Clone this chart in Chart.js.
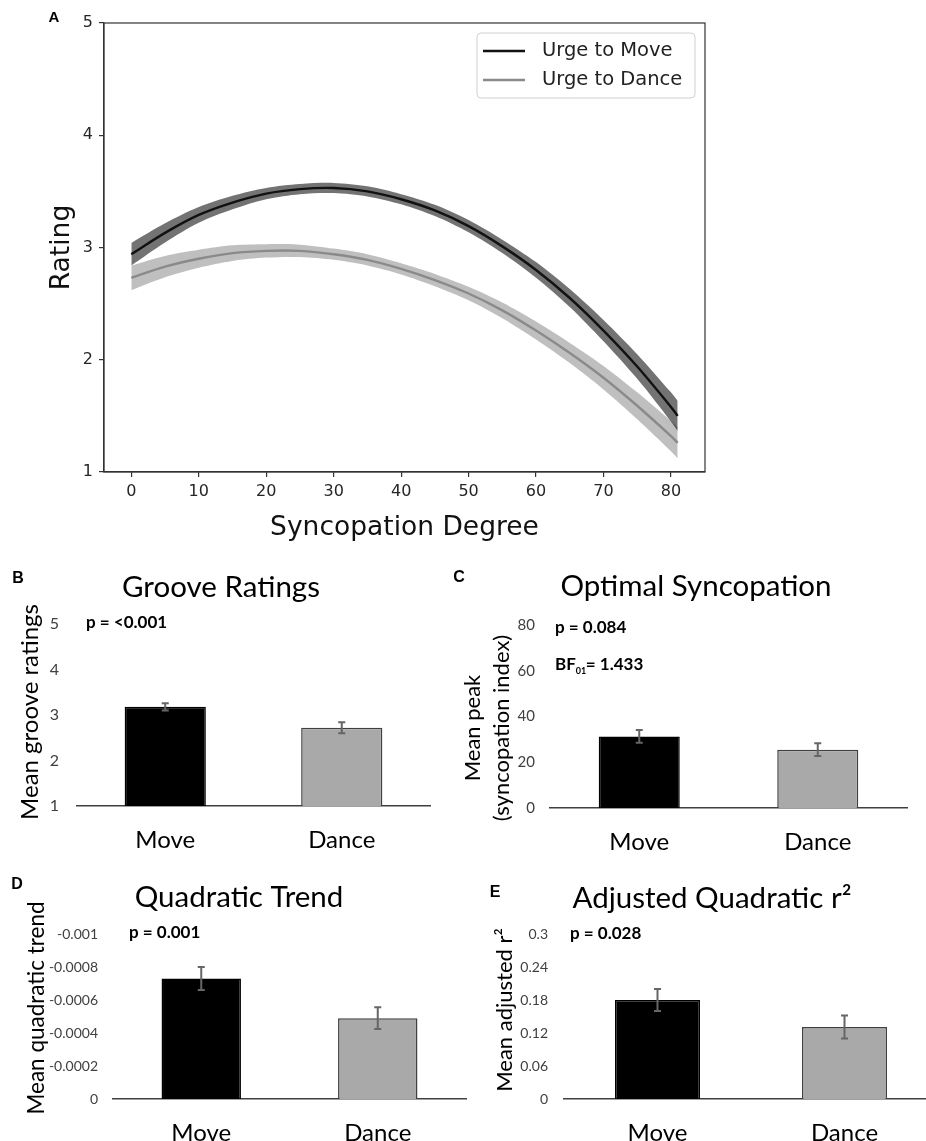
<!DOCTYPE html>
<html>
<head>
<meta charset="utf-8">
<script src="https://cdn.jsdelivr.net/npm/chart.js@4.4.0/dist/chart.umd.min.js"></script>
<style>
html, body { margin: 0; padding: 0; background: #fff; }
body { width: 926px; height: 1141px; position: relative; overflow: hidden; }
canvas { position: absolute; }
</style>
</head>
<body>
<canvas id="panel-a" width="720" height="550" style="left:0;top:0"></canvas>
<canvas id="panel-b" width="450" height="290" style="left:0;top:560px"></canvas>
<canvas id="panel-c" width="486" height="290" style="left:440px;top:560px"></canvas>
<canvas id="panel-d" width="470" height="281" style="left:0;top:860px"></canvas>
<canvas id="panel-e" width="510" height="281" style="left:440px;top:860px"></canvas>
<script>
// panel A: fitted curves with confidence bands
const degree = [0, 5, 10, 15, 20, 25, 30, 35, 40, 45, 50, 55, 60, 65, 70, 75, 80, 81];
const moveRating = [2.94, 3.13, 3.29, 3.40, 3.48, 3.52, 3.53, 3.50, 3.43, 3.33, 3.19, 3.01, 2.80, 2.55, 2.26, 1.94, 1.58, 1.50];
const moveBand = [0.10, 0.085, 0.07, 0.06, 0.05, 0.045, 0.045, 0.045, 0.045, 0.05, 0.055, 0.06, 0.07, 0.08, 0.095, 0.11, 0.13, 0.135];
const danceRating = [2.73, 2.83, 2.90, 2.95, 2.97, 2.97, 2.94, 2.89, 2.81, 2.71, 2.59, 2.44, 2.26, 2.06, 1.84, 1.59, 1.32, 1.26];
const danceBand = [0.11, 0.095, 0.08, 0.07, 0.06, 0.055, 0.05, 0.05, 0.05, 0.055, 0.06, 0.07, 0.08, 0.09, 0.105, 0.12, 0.135, 0.14];

// panels B-E: group means and error bars
const groups = ['Move', 'Dance'];
const grooveMean = [3.18, 2.72];
const grooveErr = [0.08, 0.12];
const peakMean = [31.3, 25.5];
const peakErr = [2.8, 2.8];
const quadMean = [-0.00073, -0.00049];
const quadErr = [0.00007, 0.000066];
const r2Mean = [0.18, 0.131];
const r2Err = [0.02, 0.021];

const sans = 'Lato, "Open Sans", sans-serif';
const mpl = '"DejaVu Sans", sans-serif';

function drawText(ctx, str, x, y, font, align, color) {
    ctx.save();
    ctx.font = font;
    ctx.fillStyle = color || '#000';
    ctx.textAlign = align || 'left';
    ctx.textBaseline = 'middle';
    ctx.fillText(str, x, y);
    ctx.restore();
}

// vertical axis label, read bottom to top
function drawUp(ctx, str, x, y, font) {
    ctx.save();
    ctx.translate(x, y);
    ctx.rotate(-Math.PI / 2);
    drawText(ctx, str, 0, 0, font, 'center', '#000');
    ctx.restore();
}

// ---------- panel A ----------
const xy = (ys, off, sign) => degree.map((d, i) => ({x: d, y: ys[i] + (off ? sign * off[i] : 0)}));

const frame = {
    id: 'frame',
    afterDraw(chart) {
        const a = chart.chartArea, ctx = chart.ctx;
        ctx.save();
        ctx.strokeStyle = '#333';
        ctx.lineWidth = 1.2;
        ctx.strokeRect(a.left, a.top, a.right - a.left, a.bottom - a.top);
        ctx.restore();
        drawText(ctx, 'A', 54, 18, 'bold 15px "Liberation Sans", Arial', 'center', '#000');
    }
};

const insideLegend = {
    id: 'insideLegend',
    afterDraw(chart) {
        const a = chart.chartArea, ctx = chart.ctx;
        const x = a.right - 228, y = a.top + 10, w = 218, h = 65;
        ctx.save();
        ctx.fillStyle = 'rgba(255,255,255,0.85)';
        ctx.strokeStyle = '#d0d0d0';
        ctx.lineWidth = 1;
        ctx.beginPath();
        ctx.roundRect(x, y, w, h, 4);
        ctx.fill();
        ctx.stroke();
        [0, 1].forEach(function(i) {
            const ds = chart.data.datasets[i];
            const ly = y + 18 + i * 29;
            ctx.strokeStyle = ds.borderColor;
            ctx.lineWidth = ds.borderWidth;
            ctx.beginPath();
            ctx.moveTo(x + 6, ly);
            ctx.lineTo(x + 48, ly);
            ctx.stroke();
            drawText(ctx, ds.label, x + 65, ly, '19.5px ' + mpl, 'left', '#222');
        });
        ctx.restore();
    }
};

new Chart(document.getElementById('panel-a'), {
    type: 'line',
    data: {
        datasets: [
            {label: 'Urge to Move', data: xy(moveRating), borderColor: '#111111', borderWidth: 2.4, pointRadius: 0, tension: 0.3, fill: false},
            {label: 'Urge to Dance', data: xy(danceRating), borderColor: '#8a8a8a', borderWidth: 2.4, pointRadius: 0, tension: 0.3, fill: false},
            {label: 'move hi', data: xy(moveRating, moveBand, 1), borderWidth: 0, pointRadius: 0, tension: 0.3, fill: '+1', backgroundColor: 'rgba(0,0,0,0.55)'},
            {label: 'move lo', data: xy(moveRating, moveBand, -1), borderWidth: 0, pointRadius: 0, tension: 0.3, fill: false},
            {label: 'dance hi', data: xy(danceRating, danceBand, 1), borderWidth: 0, pointRadius: 0, tension: 0.3, fill: '+1', backgroundColor: 'rgba(0,0,0,0.25)'},
            {label: 'dance lo', data: xy(danceRating, danceBand, -1), borderWidth: 0, pointRadius: 0, tension: 0.3, fill: false}
        ]
    },
    options: {
        responsive: false,
        animation: false,
        layout: {padding: {top: 23, right: 15, bottom: 0, left: 0}},
        plugins: {legend: {display: false}, tooltip: {enabled: false}},
        scales: {
            x: {
                type: 'linear', min: -4.05, max: 85.05,
                ticks: {stepSize: 10, includeBounds: false, font: {family: mpl, size: 16}, color: '#262626', padding: 5},
                grid: {drawOnChartArea: false, tickLength: 5, color: '#333', lineWidth: 1.2},
                border: {color: '#333', width: 1.2},
                title: {display: true, text: 'Syncopation Degree', font: {family: mpl, size: 26.5}, color: '#111', padding: {top: 0, bottom: 6}},
                afterFit: function(s) { s.height = 78; }
            },
            y: {
                min: 1, max: 5,
                ticks: {stepSize: 1, font: {family: mpl, size: 16}, color: '#262626', padding: 6},
                grid: {drawOnChartArea: false, tickLength: 5, color: '#333', lineWidth: 1.2},
                border: {color: '#333', width: 1.2},
                title: {display: true, text: 'Rating', font: {family: mpl, size: 26.5}, color: '#111', padding: {top: 46, bottom: 0}},
                afterFit: function(s) { s.width = 104; }
            }
        }
    },
    plugins: [frame, insideLegend]
});

// ---------- bar panels ----------
const errorBars = {
    id: 'errorBars',
    afterDatasetsDraw(chart) {
        const ctx = chart.ctx, y = chart.scales.y;
        const ds = chart.data.datasets[0];
        const meta = chart.getDatasetMeta(0);
        ctx.save();
        ctx.strokeStyle = '#666';
        ctx.lineWidth = 2;
        meta.data.forEach(function(bar, i) {
            const v = ds.data[i], e = ds.errors[i];
            const y1 = y.getPixelForValue(v + e), y2 = y.getPixelForValue(v - e);
            ctx.beginPath();
            ctx.moveTo(bar.x, y1); ctx.lineTo(bar.x, y2);
            ctx.moveTo(bar.x - 3.5, y1); ctx.lineTo(bar.x + 3.5, y1);
            ctx.moveTo(bar.x - 3.5, y2); ctx.lineTo(bar.x + 3.5, y2);
            ctx.stroke();
        });
        ctx.restore();
    }
};

function barPanel(id, o) {
    const el = document.getElementById(id);
    const W = el.width, H = el.height;
    const labels = {
        id: 'labels',
        afterDraw(chart) { o.text(chart.ctx); }
    };
    return new Chart(el, {
        type: 'bar',
        data: {
            labels: groups,
            datasets: [{
                data: o.values,
                errors: o.errors,
                backgroundColor: ['#000000', '#a9a9a9'],
                borderColor: ['#000000', '#404040'],
                borderWidth: 1.5,
                barPercentage: o.barPct,
                categoryPercentage: 1,
                base: o.base
            }]
        },
        options: {
            responsive: false,
            animation: false,
            layout: {padding: {top: o.area.top, right: W - o.area.right, bottom: 0, left: 0}},
            plugins: {legend: {display: false}, tooltip: {enabled: false}},
            scales: {
                x: {
                    grid: {drawOnChartArea: false, drawTicks: false},
                    border: {display: true, color: '#404040', width: 1.5},
                    ticks: {font: {family: sans, size: 24}, color: '#000', padding: 20},
                    afterFit: function(s) { s.height = H - o.area.bottom; }
                },
                y: {
                    min: o.min, max: o.max, reverse: !!o.reverse,
                    grid: {display: false, drawTicks: false},
                    border: {display: false},
                    ticks: {stepSize: o.step, font: {family: sans, size: o.tickSize}, color: '#404040', padding: o.tickPad, callback: o.fmt},
                    afterFit: function(s) { s.width = o.area.left; }
                }
            }
        },
        plugins: [errorBars, labels]
    });
}

const letterFont = 'bold 16px "Liberation Sans", Arial';
const titleFont = '29.5px ' + sans;
const noteFont = 'bold 17px ' + sans;

barPanel('panel-b', {
    values: grooveMean, errors: grooveErr, barPct: 0.46, base: 1,
    area: {left: 77, right: 430, top: 64, bottom: 246},
    min: 1, max: 5, step: 1, tickSize: 16, tickPad: 18,
    text: function(ctx) {
        drawText(ctx, 'B', 18, 19, letterFont, 'center');
        drawText(ctx, 'Groove Ratings', 221, 27, titleFont, 'center');
        drawText(ctx, 'p = <0.001', 86, 63, noteFont, 'left');
        drawUp(ctx, 'Mean groove ratings', 30, 152, '24px ' + sans);
    }
});

barPanel('panel-c', {
    values: peakMean, errors: peakErr, barPct: 0.454, base: 0,
    area: {left: 110, right: 467, top: 65, bottom: 248},
    min: 0, max: 80, step: 20, tickSize: 15, tickPad: 15,
    text: function(ctx) {
        drawText(ctx, 'C', 19, 18, letterFont, 'center');
        drawText(ctx, 'Optimal Syncopation', 256, 26, titleFont, 'center');
        drawText(ctx, 'p = 0.084', 115, 68, noteFont, 'left');
        ctx.save();
        ctx.font = noteFont;
        const w1 = ctx.measureText('BF').width;
        drawText(ctx, 'BF', 115, 105, noteFont, 'left');
        drawText(ctx, '01', 115 + w1, 111, 'bold 9px ' + sans, 'left');
        drawText(ctx, '= 1.433', 115 + w1 + 10, 105, noteFont, 'left');
        ctx.restore();
        drawUp(ctx, 'Mean peak', 33, 168, '22px ' + sans);
        drawUp(ctx, '(syncopation index)', 62, 168, '22px ' + sans);
    }
});

barPanel('panel-d', {
    values: quadMean, errors: quadErr, barPct: 0.45, base: 0, reverse: true,
    area: {left: 113, right: 466, top: 74, bottom: 239},
    min: -0.001, max: 0, step: 0.0002, tickSize: 14, tickPad: 15,
    fmt: function(v) { return v === 0 ? '0' : String(+v.toFixed(4)); },
    text: function(ctx) {
        drawText(ctx, 'D', 17, 25, letterFont, 'center');
        drawText(ctx, 'Quadratic Trend', 239, 37, titleFont, 'center');
        drawText(ctx, 'p = 0.001', 129, 73, noteFont, 'left');
        drawUp(ctx, 'Mean quadratic trend', 37, 148, '22.5px ' + sans);
    }
});

barPanel('panel-e', {
    values: r2Mean, errors: r2Err, barPct: 0.455, base: 0,
    area: {left: 124, right: 498, top: 74, bottom: 239},
    min: 0, max: 0.3, step: 0.06, tickSize: 14, tickPad: 16,
    fmt: function(v) { return String(+v.toFixed(2)); },
    text: function(ctx) {
        drawText(ctx, 'E', 55, 33, letterFont, 'center');
        drawText(ctx, 'Adjusted Quadratic r²', 272, 38, titleFont, 'center');
        drawText(ctx, 'p = 0.028', 130, 74, noteFont, 'left');
        drawUp(ctx, 'Mean adjusted r²', 65, 150, '22px ' + sans);
    }
});
</script>
</body>
</html>
